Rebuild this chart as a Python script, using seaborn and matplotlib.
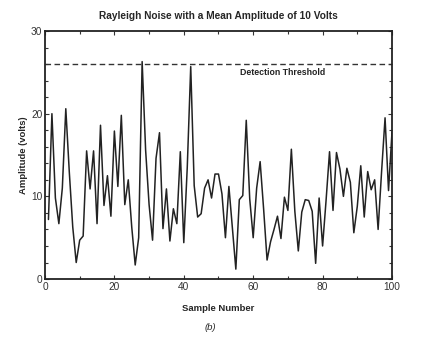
import matplotlib
matplotlib.use("Agg")
import matplotlib.pyplot as plt
import seaborn as sns
import pandas as pd
import numpy as np
from matplotlib.ticker import MultipleLocator

sample = list(range(1, 101))
amplitude = [
    7.2, 20.0, 9.8, 6.7, 11.0, 20.6, 13.0, 6.3, 2.0, 4.7,
    5.2, 15.5, 10.9, 15.5, 6.7, 18.6, 8.9, 12.5, 7.6, 17.9,
    11.2, 19.8, 9.0, 12.0, 6.3, 1.7, 5.0, 26.3, 15.6, 9.0,
    4.7, 14.6, 17.7, 6.1, 10.9, 4.6, 8.5, 6.7, 15.4, 4.4,
    13.5, 25.7, 11.3, 7.5, 7.9, 11.0, 12.0, 9.8, 12.7, 12.7,
    10.3, 5.0, 11.2, 6.2, 1.2, 9.6, 10.1, 19.2, 9.7, 5.0,
    11.0, 14.2, 8.5, 2.3, 4.5, 6.0, 7.6, 4.9, 9.9, 8.3,
    15.7, 8.2, 3.4, 8.1, 9.6, 9.5, 8.2, 1.9, 9.8, 4.0,
    9.5, 15.4, 8.3, 15.3, 13.3, 10.0, 13.4, 11.7, 5.6, 8.8,
    13.7, 7.5, 13.0, 10.8, 12.0, 6.0, 13.0, 19.5, 10.7, 17.8,
]
threshold = 26.0
threshold_label = "Detection Threshold"
title = "Rayleigh Noise with a Mean Amplitude of 10 Volts"
x_ticks = [0, 20, 40, 60, 80, 100]
y_ticks = [0, 10, 20, 30]

df = pd.DataFrame({"Sample": sample, "Amplitude": amplitude})

sns.set_style("ticks")
plt.rcParams["font.family"] = ["Liberation Sans", "DejaVu Sans"]

fig = plt.figure(figsize=(4.48, 3.37), dpi=100)
ax = fig.add_axes([0.1004, 0.172, 0.7746, 0.736])

sns.lineplot(data=df, x="Sample", y="Amplitude", ax=ax, color="#222222", linewidth=1.1)
ax.axhline(threshold, color="#333333", linestyle=(0, (4, 2.5)), linewidth=1.0)
ax.text(68.5, threshold - 1.0, threshold_label, ha="center", va="center",
        fontsize=6.3, fontweight="bold", color="#222222")

ax.set_xlim(0, 100)
ax.set_ylim(0, 30)
ax.set_xticks(x_ticks)
ax.set_yticks(y_ticks)
ax.xaxis.set_minor_locator(MultipleLocator(10))
ax.yaxis.set_minor_locator(MultipleLocator(2))
ax.tick_params(which="both", direction="in", top=True, right=True,
               labelsize=7.3, colors="#333333", length=3, width=0.8, pad=2)
ax.tick_params(which="minor", length=2)
for s in ax.spines.values():
    s.set_linewidth(1.3)
    s.set_color("#222222")

ax.set_title(title, fontsize=7.3, fontweight="bold", pad=9)
ax.set_xlabel("Sample Number", fontsize=6.8, fontweight="bold", labelpad=9)
ax.set_ylabel("Amplitude (volts)", fontsize=6.8, fontweight="bold", labelpad=2)
fig.text(0.47, 0.027, "(b)", fontsize=6.8, style="italic", ha="center", va="center")

fig.savefig("out.png", dpi=100)
